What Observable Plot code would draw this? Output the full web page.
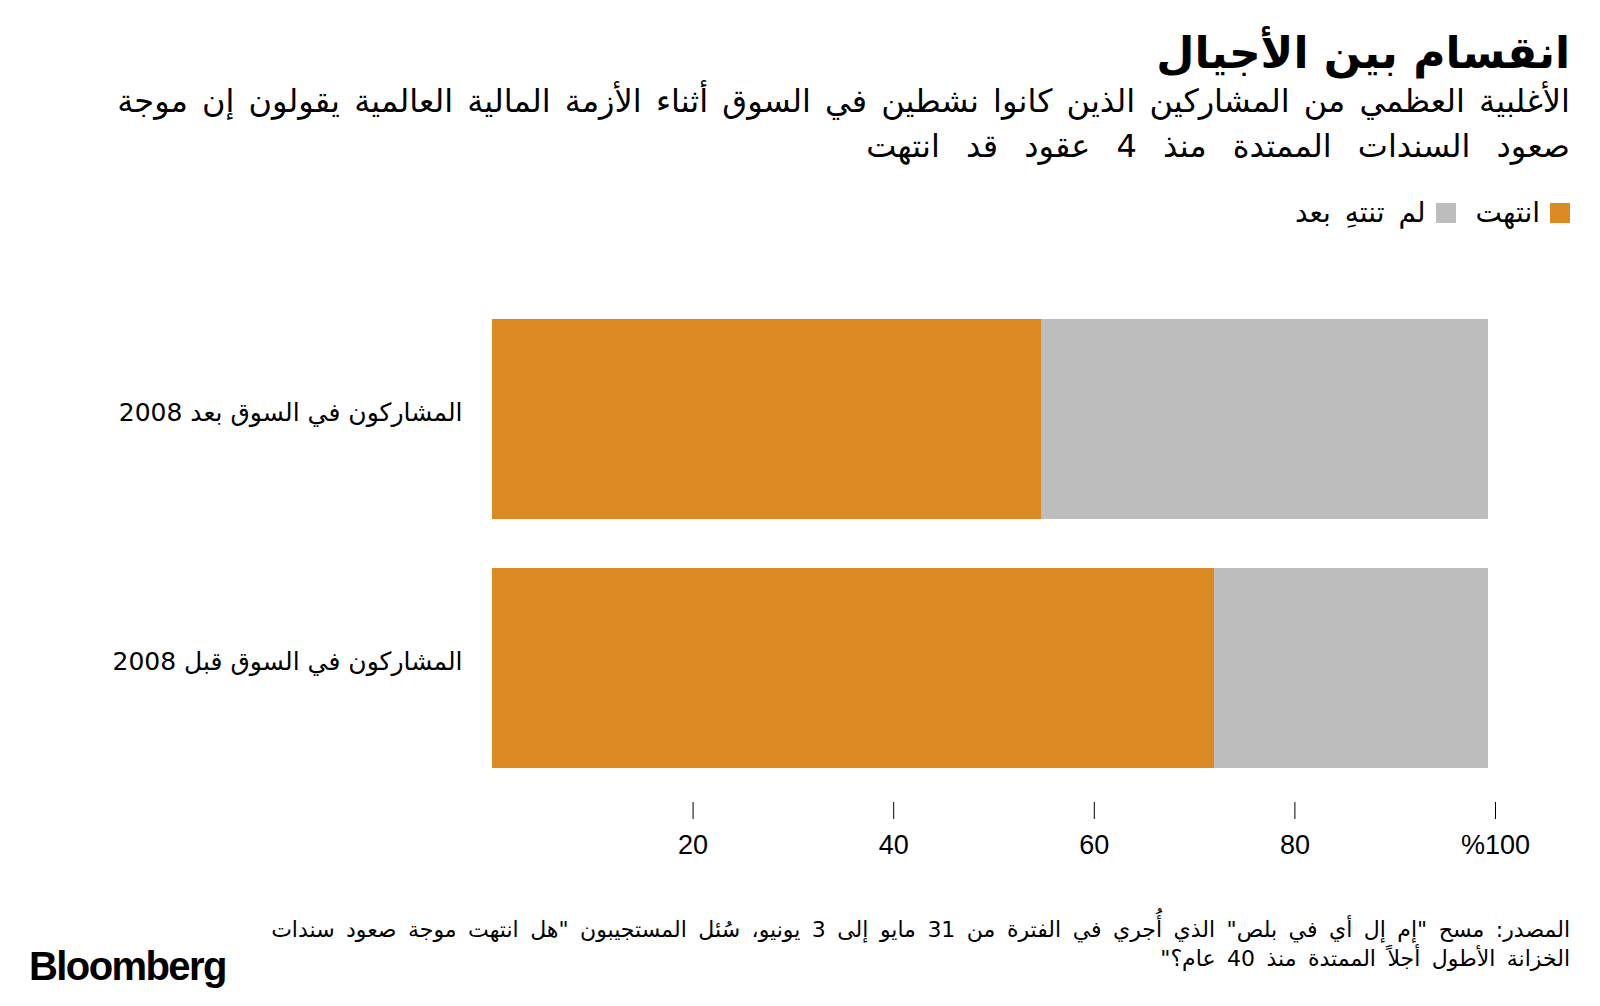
<!DOCTYPE html>
<html>
<head>
<meta charset="utf-8">
<script src="https://cdn.jsdelivr.net/npm/d3@7"></script>
<script src="https://cdn.jsdelivr.net/npm/@observablehq/plot@0.6"></script>
<style>
  html, body { margin: 0; padding: 0; background: #fff; }
  body { width: 1600px; height: 1006px; position: relative; overflow: hidden;
         font-family: "DejaVu Sans", sans-serif; color: #000; }
  .rtl { position: absolute; right: 30px; direction: rtl; text-align: right; white-space: nowrap; }
  #title { top: 26px; font-size: 44px; font-weight: bold; line-height: 54px; }
  .sub { font-size: 32px; line-height: 44px; }
  #sub1 { top: 79px; word-spacing: 4px; }
  #sub2 { top: 124px; word-spacing: 16px; }
  #legend { top: 197px; font-size: 28px; line-height: 32px; display: flex; align-items: center; word-spacing: 5px; }
  #legend .sw { width: 20px; height: 20px; display: inline-block; margin-left: 10px; }
  #legend .item { display: flex; align-items: center; margin-left: 20px; }
  #chart { position: absolute; left: 0; top: 240px; }
  .src { font-size: 22px; line-height: 28px; word-spacing: 4.5px; }
  #src1 { top: 916px; }
  #src2 { top: 945px; }
  #logo { position: absolute; left: 29px; top: 944px; font-family: "Liberation Sans", Arial, sans-serif;
          font-weight: bold; font-size: 40px; letter-spacing: -1.6px; line-height: 44px; }
</style>
</head>
<body>
<div id="title" class="rtl">انقسام بين الأجيال</div>
<div id="sub1" class="rtl sub">الأغلبية العظمي من المشاركين الذين كانوا نشطين في السوق أثناء الأزمة المالية العالمية يقولون إن موجة</div>
<div id="sub2" class="rtl sub">صعود السندات الممتدة منذ 4 عقود قد انتهت</div>
<div id="legend" class="rtl"></div>
<div id="chart"></div>
<div id="src1" class="rtl src">المصدر: مسح "إم إل أي في بلص" الذي أُجري في الفترة من 31 مايو إلى 3 يونيو، سُئل المستجيبون "هل انتهت موجة صعود سندات</div>
<div id="src2" class="rtl src">الخزانة الأطول أجلاً الممتدة منذ 40 عام؟"</div>
<div id="logo">Bloomberg</div>
<script>
// Data
const groups = ["المشاركون في السوق بعد 2008", "المشاركون في السوق قبل 2008"];
const seriesNames = ["انتهت", "لم تنتهِ بعد"];
const endedValues = [54.8, 72.0];
const notYetValues = [44.5, 27.3];
const seriesColors = ["#DA8923", "#BDBDBD"];
const xTicks = [20, 40, 60, 80, 100];
const xTickLabels = ["20", "40", "60", "80", "%100"];

// Legend
const legend = document.getElementById("legend");
seriesNames.forEach((name, i) => {
  const item = document.createElement("span");
  item.className = "item";
  const sw = document.createElement("span");
  sw.className = "sw";
  sw.style.background = seriesColors[i];
  const t = document.createElement("span");
  t.textContent = name;
  item.appendChild(sw);
  item.appendChild(t);
  legend.appendChild(item);
});

// Table for stacking
const rows = [];
groups.forEach((g, i) => {
  rows.push({group: g, series: seriesNames[0], value: endedValues[i]});
  rows.push({group: g, series: seriesNames[1], value: notYetValues[i]});
});

const chart = Plot.plot({
  width: 1600,
  height: 640,
  marginLeft: 491,
  marginRight: 105,
  marginTop: 0,
  marginBottom: 78,
  style: {fontFamily: "'Liberation Sans', 'DejaVu Sans', sans-serif", background: "transparent", color: "#000"},
  x: {domain: [0, 100], range: [492, 1495]},
  y: {domain: groups, range: [79, 528], paddingInner: 49 / 249, paddingOuter: 0},
  color: {domain: seriesNames, range: seriesColors},
  marks: [
    Plot.barX(rows, Plot.stackX({x: "value", y: "group", fill: "series", order: seriesNames})),
    Plot.axisX({
      ticks: xTicks,
      tickSize: 17,
      tickPadding: 15,
      fontSize: 27,
      stroke: "#000",
      strokeWidth: 1,
      tickFormat: d => xTickLabels[xTicks.indexOf(d)],
      label: null
    }),
    Plot.axisY({
      tickSize: 0,
      tickPadding: 29,
      fontSize: 25,
      dy: -7,
      fontFamily: "'DejaVu Sans', sans-serif",
      label: null
    })
  ]
});
document.getElementById("chart").appendChild(chart);
</script>
</body>
</html>
